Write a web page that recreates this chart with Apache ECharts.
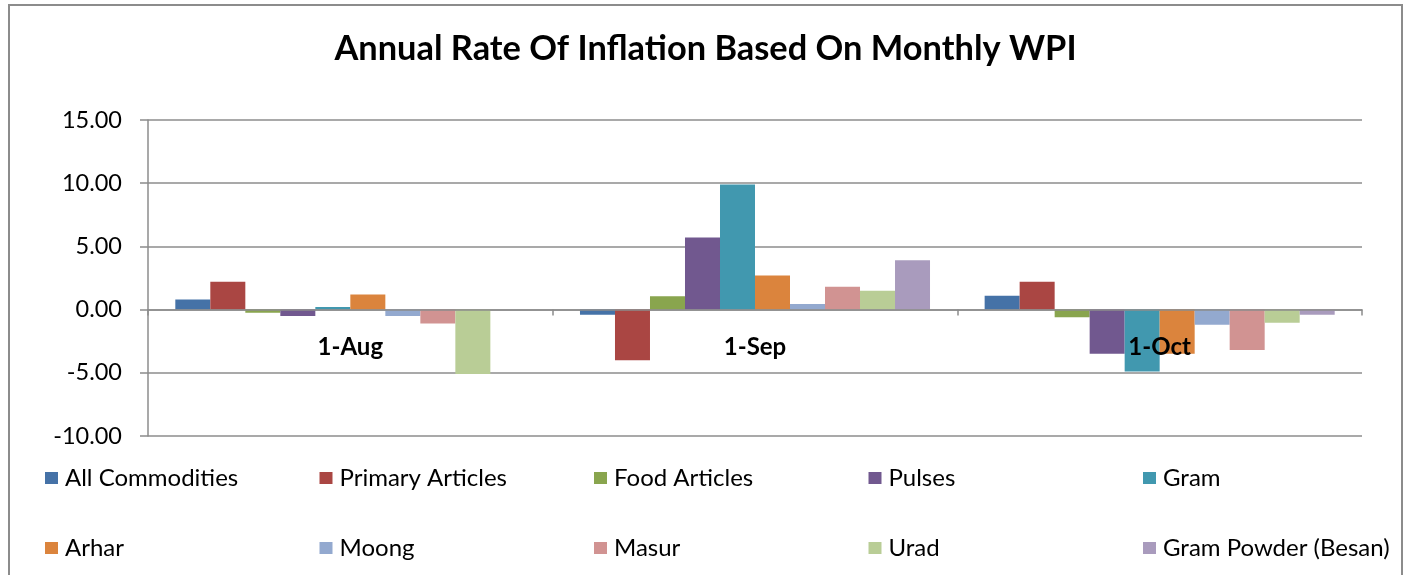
<!DOCTYPE html>
<html>
<head>
<meta charset="utf-8">
<script src="https://cdn.jsdelivr.net/npm/echarts@6/dist/echarts.min.js"></script>
<style>
  html, body { margin: 0; padding: 0; background: #fff; }
  #chart { width: 1411px; height: 575px; }
</style>
</head>
<body>
<div id="chart"></div>
<script>
// categories on x axis
const months = ['1-Aug', '1-Sep', '1-Oct'];

// one array per commodity, values for Aug / Sep / Oct
const allCommodities = [0.8, -0.4, 1.1];
const primaryArticles = [2.2, -4.0, 2.2];
const foodArticles = [-0.25, 1.05, -0.6];
const pulses = [-0.5, 5.7, -3.5];
const gram = [0.2, 9.9, -4.9];
const arhar = [1.2, 2.7, -3.5];
const moong = [-0.5, 0.45, -1.2];
const masur = [-1.1, 1.8, -3.2];
const urad = [-5.1, 1.5, -1.05];
const gramPowder = [0, 3.9, -0.4];

const seriesNames = ['All Commodities', 'Primary Articles', 'Food Articles', 'Pulses', 'Gram',
  'Arhar', 'Moong', 'Masur', 'Urad', 'Gram Powder (Besan)'];
const seriesValues = [allCommodities, primaryArticles, foodArticles, pulses, gram,
  arhar, moong, masur, urad, gramPowder];
const colors = ['#4572A7', '#AA4643', '#89A54E', '#71588F', '#4198AF',
  '#DB843D', '#93A9CF', '#D19392', '#B9CD96', '#A99BBD'];

const yTicks = [-10, -5, 0, 5, 10, 15];

const font = 'Lato, "Open Sans", sans-serif';

// legend in 2 rows x 5 columns, one legend per item so columns line up
const legends = seriesNames.map((name, i) => ({
  data: [name],
  left: 45 + (i % 5) * 274.5,
  top: i < 5 ? 466 : 536,
  padding: 0,
  itemWidth: 13,
  itemHeight: 12,
  icon: 'rect',
  itemGap: 0,
  selectedMode: false,
  textStyle: { fontFamily: font, fontSize: 24, color: '#000', padding: [0, 0, 0, 2] }
}));

const chart = echarts.init(document.getElementById('chart'));
chart.setOption({
  animation: false,
  color: colors,
  title: {
    text: 'Annual Rate Of Inflation Based On Monthly WPI',
    left: 'center',
    top: 27,
    textStyle: { fontFamily: font, fontSize: 34.4, fontWeight: 'bold', color: '#000' }
  },
  graphic: [{
    type: 'rect',
    shape: { x: 9, y: 5, width: 1393, height: 600 },
    style: { fill: 'none', stroke: '#8c8c8c', lineWidth: 2 },
    silent: true
  }],
  legend: legends,
  grid: { left: 148, right: 49, top: 120, bottom: 139, containLabel: false },
  xAxis: {
    type: 'category',
    data: months,
    z: 5, // labels drawn over the bars (1-Oct sits on top of them)
    axisLine: { onZero: true, lineStyle: { color: '#8c8c8c', width: 1.5 } },
    axisTick: { show: true, length: 6, lineStyle: { color: '#8c8c8c', width: 1.5 } },
    // labels sit just under the zero line, as in the original
    axisLabel: { margin: -101, fontFamily: font, fontSize: 24, fontWeight: 'bold', color: '#000' }
  },
  yAxis: {
    type: 'value',
    min: yTicks[0],
    max: yTicks[yTicks.length - 1],
    interval: 5,
    axisLine: { show: true, lineStyle: { color: '#8c8c8c', width: 1.5 } },
    axisTick: { show: true, length: 8, lineStyle: { color: '#8c8c8c', width: 1.5 } },
    splitLine: { lineStyle: { color: '#8c8c8c', width: 1.5 } },
    axisLabel: {
      margin: 26,
      fontFamily: font,
      fontSize: 23.5,
      color: '#000',
      formatter: v => v.toFixed(2)
    }
  },
  series: seriesNames.map((name, i) => ({
    name: name,
    type: 'bar',
    data: seriesValues[i],
    barGap: '0%',
    barCategoryGap: '13.5%',
    itemStyle: { color: colors[i] }
  }))
});
</script>
</body>
</html>
